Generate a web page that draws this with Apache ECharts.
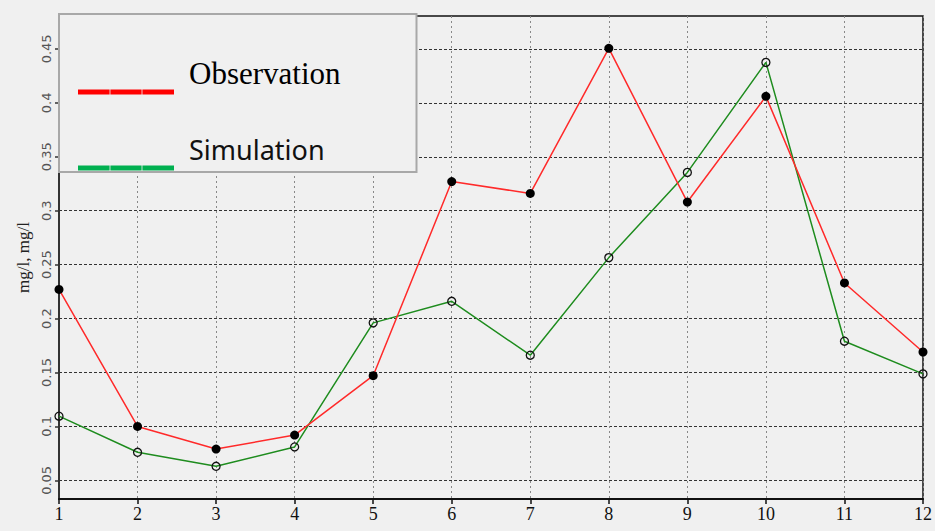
<!DOCTYPE html>
<html>
<head>
<meta charset="utf-8">
<script src="https://cdn.jsdelivr.net/npm/echarts@6/dist/echarts.min.js"></script>
<style>
html,body{margin:0;padding:0;background:#f0f0f0;}
#chart{width:935px;height:531px;}
</style>
</head>
<body>
<div id="chart"></div>
<script>
// ---- data ----
const categories = ['1','2','3','4','5','6','7','8','9','10','11','12'];
const observation = [0.227, 0.100, 0.079, 0.092, 0.147, 0.327, 0.316, 0.4505, 0.308, 0.406, 0.233, 0.169];
const simulation  = [0.1095, 0.076, 0.063, 0.081, 0.196, 0.216, 0.166, 0.2565, 0.3355, 0.4375, 0.179, 0.1487];
const yTicks = [0.05, 0.1, 0.15, 0.2, 0.25, 0.3, 0.35, 0.4, 0.45];
const yMin = 0.0327, yMax = 0.4805;
const seriesNames = ['Observation', 'Simulation'];
const yAxisName = 'mg/l, mg/l';

const chart = echarts.init(document.getElementById('chart'), null, {renderer: 'svg'});
const iconPath = 'path://M0,0h0.01v0.01h-0.01z M0,38h31.6v5h-31.6z M32.4,38h31.2v5h-31.2z M64.4,38h31.6v5h-31.6z';

chart.setOption({
  backgroundColor: '#f0f0f0',
  animation: false,
  grid: {left: 59, right: 6, top: 16, bottom: 32, show: true, borderColor: '#111', borderWidth: 1.5, backgroundColor: 'transparent'},
  xAxis: {
    type: 'category', data: categories, boundaryGap: false,
    axisLine: {lineStyle: {color: '#111', width: 2}},
    axisTick: {show: true, alignWithLabel: true, length: 5, lineStyle: {color: '#111', width: 1.5}},
    axisLabel: {margin: 6, fontFamily: 'Liberation Serif', fontSize: 18, color: '#111', showMinLabel: true, showMaxLabel: true},
    splitLine: {show: true, lineStyle: {color: '#888', type: [2, 3], width: 1}}
  },
  yAxis: {
    type: 'value', min: yMin, max: yMax,
    name: yAxisName, nameLocation: 'middle', nameRotate: 90, nameGap: 27,
    nameTextStyle: {fontFamily: 'Liberation Serif', fontSize: 17, color: '#222'},
    axisLine: {show: true, lineStyle: {color: '#333', width: 2}},
    axisTick: {show: true, length: 4, customValues: yTicks, lineStyle: {color: '#333', width: 1.5}},
    axisLabel: {rotate: 90, margin: 6, fontFamily: 'DejaVu Sans', fontSize: 13, color: '#555', customValues: yTicks,
      formatter: function (v) { return String(+v.toFixed(2)); }},
    splitLine: {show: true, lineStyle: {color: '#333', type: [3, 2], width: 1}}
  },
  legend: {
    left: 78, top: 51.5, orient: 'vertical', padding: 0, itemGap: 33,
    itemWidth: 96, itemHeight: 43, selectedMode: false, z: 12,
    itemStyle: {borderWidth: 0, borderColor: 'transparent'},
    textStyle: {padding: [0, 0, 0, 10]},
    data: [
      {name: seriesNames[0], icon: iconPath, itemStyle: {color: '#ff0000', borderWidth: 0},
       textStyle: {fontFamily: 'Liberation Serif', fontSize: 31, color: '#000'}},
      {name: seriesNames[1], icon: iconPath, itemStyle: {color: '#00b050', borderWidth: 0},
       textStyle: {fontFamily: 'Noto Sans', fontSize: 27, color: '#111'}}
    ]
  },
  graphic: [
    {type: 'rect', z: 11, shape: {x: 59, y: 14, width: 357.5, height: 158},
     style: {fill: '#f0f0f0', stroke: '#a8a8a8', lineWidth: 2}}
  ],
  series: [
    {
      name: seriesNames[0], type: 'line', data: observation, z: 3,
      symbol: 'circle', symbolSize: 9, showAllSymbol: true,
      lineStyle: {color: '#ff2a2a', width: 1.5},
      itemStyle: {color: '#000', borderWidth: 0},
      emphasis: {disabled: true}
    },
    {
      name: seriesNames[1], type: 'line', data: simulation, z: 2,
      symbol: 'circle', symbolSize: 8, showAllSymbol: true,
      lineStyle: {color: '#1e8c1e', width: 1.5},
      itemStyle: {color: 'rgba(0,0,0,0)', borderColor: '#111', borderWidth: 1.3},
      emphasis: {disabled: true}
    }
  ]
});
</script>
</body>
</html>
